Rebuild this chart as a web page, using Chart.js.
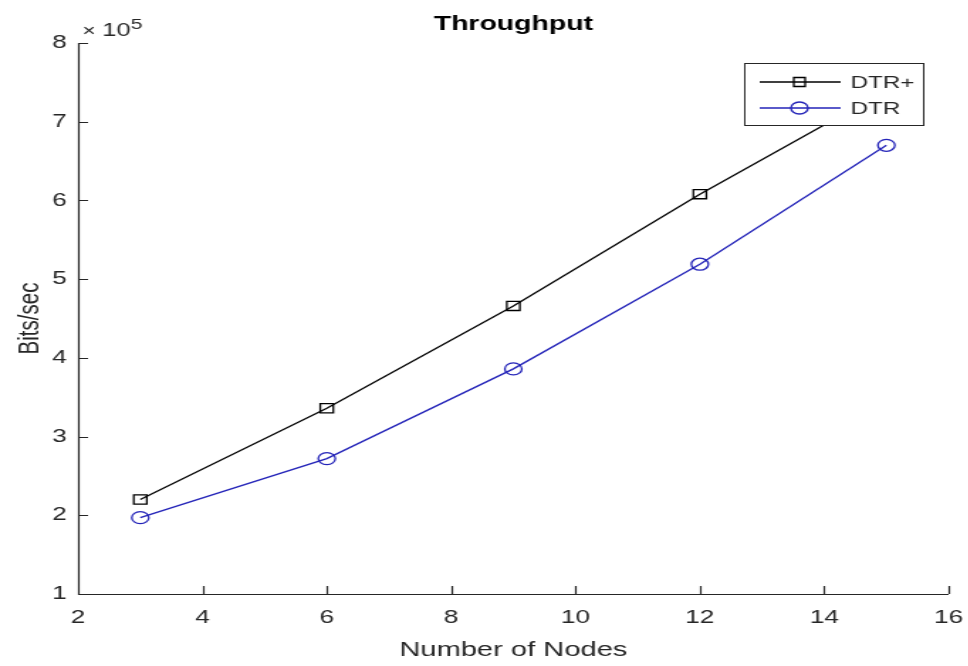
<!DOCTYPE html>
<html>
<head>
<meta charset="utf-8">
<script src="https://cdn.jsdelivr.net/npm/chart.js@4.4.1/dist/chart.umd.min.js"></script>
<style>
  html, body { margin: 0; padding: 0; background: #fff; overflow: hidden; }
  /* the figure is drawn at its native width and widened horizontally */
  #wrap { width: 682px; height: 666px; transform: scale(1.42, 1); transform-origin: 0 0; }
</style>
</head>
<body>
<div id="wrap"><canvas id="c" width="682" height="666"></canvas></div>
<script>
// Node counts and throughput (bits/sec) for the two protocols
const nodes = [3, 6, 9, 12, 15];
const dtrPlus = [220000, 336000, 466000, 608000, 740000];
const dtr = [197000, 272000, 386000, 519000, 670000];
const xTicks = [2, 4, 6, 8, 10, 12, 14, 16];
const yTicks = [100000, 200000, 300000, 400000, 500000, 600000, 700000, 800000];
const yExponent = 5;

const axisColor = '#262626';
const fontFamily = '"Liberation Sans", Arial, sans-serif';

function toPoints(xs, ys) {
  return xs.map((x, i) => ({ x: x, y: ys[i] }));
}

// Inward tick marks, exponent label, title and boxed legend (MATLAB style)
const decorations = {
  id: 'decorations',
  afterDatasetsDraw(chart) {
    const ctx = chart.ctx;
    const xs = chart.scales.x, ys = chart.scales.y;
    const area = chart.chartArea;
    ctx.save();
    ctx.strokeStyle = axisColor;
    ctx.lineWidth = 1.2;
    ctx.beginPath();
    ctx.moveTo(area.left + 0.5, area.top);
    ctx.lineTo(area.left + 0.5, area.bottom + 0.5);
    ctx.lineTo(area.right, area.bottom + 0.5);
    xTicks.forEach(v => {
      const px = Math.round(xs.getPixelForValue(v)) + 0.5;
      ctx.moveTo(px, area.bottom);
      ctx.lineTo(px, area.bottom - 8);
    });
    yTicks.forEach(v => {
      const py = Math.round(ys.getPixelForValue(v)) + 0.5;
      ctx.moveTo(area.left, py);
      ctx.lineTo(area.left + 7, py);
    });
    ctx.stroke();

    // exponent label above the y axis
    ctx.fillStyle = axisColor;
    ctx.textBaseline = 'alphabetic';
    ctx.textAlign = 'left';
    ctx.font = '16px ' + fontFamily;
    ctx.fillText('\u00d7', area.left + 3, area.top - 7);
    ctx.font = '18px ' + fontFamily;
    ctx.fillText('10', area.left + 17, area.top - 7);
    ctx.font = '15px ' + fontFamily;
    ctx.fillText(String(yExponent), area.left + 37, area.top - 14);

    // title
    ctx.fillStyle = '#000';
    ctx.font = 'bold 20px ' + fontFamily;
    ctx.textAlign = 'center';
    ctx.textBaseline = 'middle';
    ctx.fillText('Throughput', (area.left + area.right) / 2, 24);

    // legend box
    const lx = 524, ly = 63, lw = 126, lh = 62;
    ctx.fillStyle = '#fff';
    ctx.fillRect(lx, ly, lw, lh);
    ctx.strokeStyle = axisColor;
    ctx.lineWidth = 1;
    ctx.strokeRect(lx + 0.5, ly + 0.5, lw, lh);
    chart.data.datasets.forEach((ds, i) => {
      const rowY = ly + 19 + i * 26;
      const mx = lx + 39;
      ctx.strokeStyle = ds.borderColor;
      ctx.lineWidth = 1.3;
      ctx.beginPath();
      ctx.moveTo(lx + 11, rowY);
      ctx.lineTo(lx + 68, rowY);
      ctx.stroke();
      ctx.beginPath();
      if (ds.pointStyle === 'rect') {
        ctx.rect(mx - 4, rowY - 4.5, 8, 9);
      } else {
        ctx.arc(mx, rowY, 6, 0, Math.PI * 2);
      }
      ctx.stroke();
      ctx.fillStyle = axisColor;
      ctx.font = '17px ' + fontFamily;
      ctx.textAlign = 'left';
      ctx.textBaseline = 'middle';
      ctx.fillText(ds.label, lx + 75, rowY + 1);
    });
    ctx.restore();
  }
};

new Chart(document.getElementById('c'), {
  type: 'line',
  data: {
    datasets: [
      {
        label: 'DTR+',
        data: toPoints(nodes, dtrPlus),
        borderColor: '#000000',
        borderWidth: 1.3,
        pointStyle: 'rect',
        pointRadius: 6.5,
        pointBorderWidth: 1.3,
        pointBackgroundColor: 'rgba(0,0,0,0)',
        pointBorderColor: '#000000',
        tension: 0
      },
      {
        label: 'DTR',
        data: toPoints(nodes, dtr),
        borderColor: '#2323b8',
        borderWidth: 1.3,
        pointStyle: 'circle',
        pointRadius: 6,
        pointBorderWidth: 1.3,
        pointBackgroundColor: 'rgba(0,0,0,0)',
        pointBorderColor: '#2323b8',
        tension: 0
      }
    ]
  },
  options: {
    responsive: false,
    animation: false,
    devicePixelRatio: 1,
    layout: { padding: { top: 43, right: 14, left: 0, bottom: 0 } },
    plugins: {
      legend: { display: false },
      title: { display: false },
      tooltip: { enabled: false }
    },
    scales: {
      x: {
        type: 'linear',
        min: 2, max: 16,
        afterBuildTicks: s => { s.ticks = xTicks.map(v => ({ value: v })); },
        afterFit: s => { s.height = 72; s.paddingLeft = 0; s.paddingRight = 0; },
        grid: { display: false, drawTicks: false },
        border: { display: false },
        ticks: {
          color: axisColor,
          font: { family: fontFamily, size: 18.5 },
          padding: 13,
          maxRotation: 0
        },
        title: {
          display: true,
          text: 'Number of Nodes',
          color: axisColor,
          font: { family: fontFamily, size: 20.5 },
          padding: { top: 0, bottom: 3 }
        }
      },
      y: {
        type: 'linear',
        min: 100000, max: 800000,
        afterBuildTicks: s => { s.ticks = yTicks.map(v => ({ value: v })); },
        afterFit: s => { s.width = 55; s.paddingTop = 0; s.paddingBottom = 0; },
        grid: { display: false, drawTicks: false },
        border: { display: false },
        ticks: {
          color: axisColor,
          font: { family: fontFamily, size: 18.5 },
          padding: 8,
          callback: v => String(Math.round(v / Math.pow(10, yExponent)))
        },
        title: {
          display: true,
          text: 'Bits/sec',
          color: axisColor,
          font: { family: fontFamily, size: 20.5 },
          padding: { top: 9, bottom: 0 }
        }
      }
    }
  },
  plugins: [decorations]
});
</script>
</body>
</html>
